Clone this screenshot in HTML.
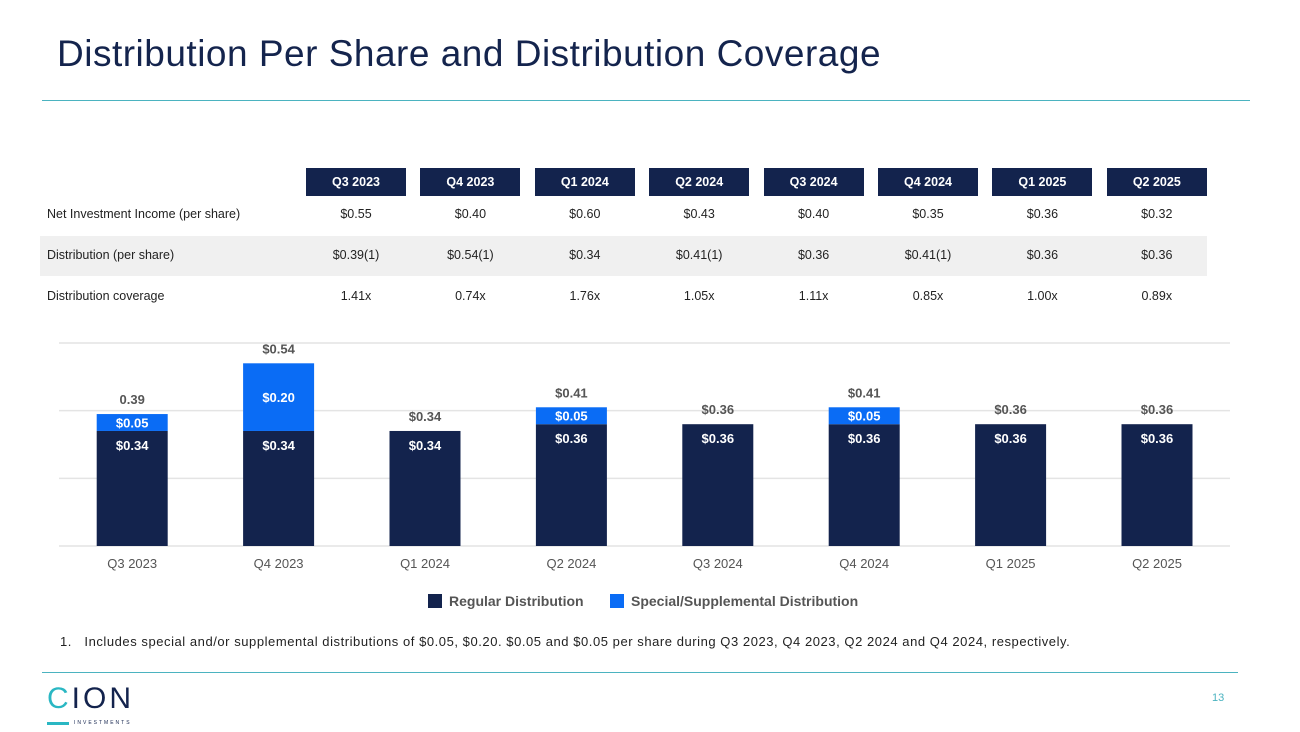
<!DOCTYPE html>
<html><head><meta charset="utf-8"><style>
body{margin:0;width:1300px;height:731px;background:#fff;font-family:"Liberation Sans",sans-serif;position:relative;overflow:hidden}
.abs{position:absolute}
.title{left:57px;top:33px;font-size:37px;color:#14244d;letter-spacing:0.5px}
.hdr{background:#13234d;color:#fff;font-size:12.5px;font-weight:bold;text-align:center;line-height:28px;height:28px;width:100px;top:168px}
.cell{font-size:12.5px;color:#222;text-align:center;width:114px}
.lab{font-size:12.5px;color:#222;left:47px}
</style></head><body>
<div class="abs title">Distribution Per Share and Distribution Coverage</div>
<div class="abs" style="left:42px;top:100px;width:1208px;height:1px;background:#4bb3c0"></div>
<div class="abs" style="left:40px;top:236px;width:1167px;height:40px;background:#f0f0f0"></div>
<div id="table"></div>
<svg class="abs" style="left:0;top:0" width="1300" height="731" id="chart"></svg>
<div class="abs" style="left:428px;top:594px;width:14px;height:14px;background:#13234d"></div>
<div class="abs" style="left:449px;top:593px;font-size:14px;font-weight:bold;color:#555">Regular Distribution</div>
<div class="abs" style="left:610px;top:594px;width:14px;height:14px;background:#0a6cf5"></div>
<div class="abs" style="left:631px;top:593px;font-size:14px;font-weight:bold;color:#555">Special/Supplemental Distribution</div>
<div class="abs" style="left:60px;top:634px;font-size:13px;letter-spacing:0.55px;color:#222;white-space:nowrap">1.&nbsp;&nbsp;&nbsp;Includes special and/or supplemental distributions of $0.05, $0.20. $0.05 and $0.05 per share during Q3 2023, Q4 2023, Q2 2024 and Q4 2024, respectively.</div>
<div class="abs" style="left:42px;top:672px;width:1196px;height:1px;background:#4bb3c0"></div>
<div class="abs" style="left:47px;top:684px">
<div style="font-size:30px;color:#13234d;letter-spacing:3px;line-height:30px"><span style="color:#2ab7c3">C</span>ION</div>
<div style="width:22px;height:3px;background:#2ab7c3;margin-top:1px;display:inline-block;vertical-align:middle"></div><span style="font-size:5px;color:#13234d;letter-spacing:2px;margin-left:5px;vertical-align:middle">INVESTMENTS</span>
</div>
<div class="abs" style="left:1212px;top:692px;font-size:11px;color:#4bb3c0">13</div>
<script>
const quarters=["Q3 2023","Q4 2023","Q1 2024","Q2 2024","Q3 2024","Q4 2024","Q1 2025","Q2 2025"];
const nii=["$0.55","$0.40","$0.60","$0.43","$0.40","$0.35","$0.36","$0.32"];
const dist=["$0.39(1)","$0.54(1)","$0.34","$0.41(1)","$0.36","$0.41(1)","$0.36","$0.36"];
const cover=["1.41x","0.74x","1.76x","1.05x","1.11x","0.85x","1.00x","0.89x"];
const regular=[0.34,0.34,0.34,0.36,0.36,0.36,0.36,0.36];
const special=[0.05,0.20,0,0.05,0,0.05,0,0];
const totalLabels=["0.39","$0.54","$0.34","$0.41","$0.36","$0.41","$0.36","$0.36"];
const yTicks=[0,0.2,0.4,0.6];
const t=document.getElementById('table');
function colX(i){return 356+i*114.4;}
quarters.forEach((q,i)=>{const d=document.createElement('div');d.className='abs hdr';d.style.left=(colX(i)-50)+'px';d.textContent=q;


t.appendChild(d);});
[[ "Net Investment Income (per share)",nii,207],["Distribution (per share)",dist,248],["Distribution coverage",cover,289]].forEach((r,ri)=>{
const l=document.createElement('div');l.className='abs lab';l.style.top=r[2]+'px';l.textContent=r[0];


t.appendChild(l);
r[1].forEach((v,i)=>{const c=document.createElement('div');c.className='abs cell';c.style.left=(colX(i)-57)+'px';c.style.top=r[2]+'px';c.textContent=v;


t.appendChild(c);});});
const svg=document.getElementById('chart');const NS='http://www.w3.org/2000/svg';
const base=546,top0=343,ymax=0.6,x0=59,band=146.4,bw=71;
function y(v){return base-(v/ymax)*(base-top0);}
function xc(i){return x0+band*(i+0.5);}
function el(tag,attrs,txt){const e=document.createElementNS(NS,tag);for(const k in attrs)e.setAttribute(k,attrs[k]);if(txt!==undefined)e.textContent=txt;svg.appendChild(e);return e;}
yTicks.forEach(v=>{const g=el('line',{x1:59,x2:1230,y1:y(v),y2:y(v),stroke:'#e4e4e4','stroke-width':1.5});

});
quarters.forEach((q,i)=>{
const r=el('rect',{x:xc(i)-bw/2,y:y(regular[i]),width:bw,height:base-y(regular[i]),fill:'#13234d'});


const rl=el('text',{x:xc(i),y:y(regular[i])+19,'text-anchor':'middle',fill:'#fff','font-size':13,'font-weight':'bold'},'$'+regular[i].toFixed(2));


const tot=regular[i]+special[i];
if(special[i]>0){const s=el('rect',{x:xc(i)-bw/2,y:y(tot),width:bw,height:y(regular[i])-y(tot),fill:'#0a6cf5'});


const sl=el('text',{x:xc(i),y:(y(tot)+y(regular[i]))/2+5,'text-anchor':'middle',fill:'#fff','font-size':13,'font-weight':'bold'},'$'+special[i].toFixed(2));

}
const tl=el('text',{x:xc(i),y:y(tot)-10,'text-anchor':'middle',fill:'#555','font-size':13,'font-weight':'bold'},totalLabels[i]);


const xl=el('text',{x:xc(i),y:568,'text-anchor':'middle',fill:'#555','font-size':13},q);


});
</script>
</body></html>
